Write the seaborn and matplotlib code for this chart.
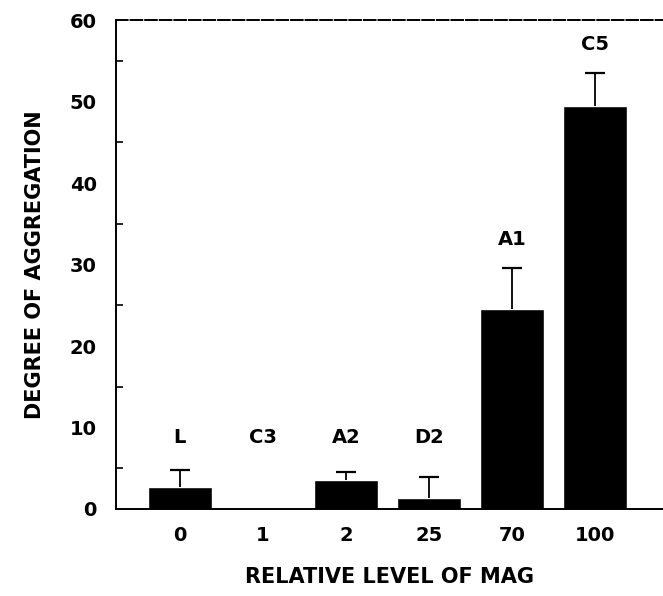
"""Degree of aggregation versus relative level of MAG (bar chart)."""

import numpy as np
import pandas as pd
import seaborn as sns
import matplotlib.pyplot as plt
from matplotlib.ticker import MultipleLocator

# --- Data ----------------------------------------------------------------
mag_levels = ["0", "1", "2", "25", "70", "100"]
clone_names = ["L", "C3", "A2", "D2", "A1", "C5"]
aggregation = [2.7, 0.0, 3.6, 1.4, 24.5, 49.5]
upper_error = [4.8, 0.0, 4.6, 3.9, 29.6, 53.5]


def main() -> None:
    df = pd.DataFrame({"mag": mag_levels, "clone": clone_names,
                       "agg": aggregation, "err": upper_error})

    sns.set_style("white")
    plt.rcParams["font.family"] = ["DejaVu Sans"]
    plt.rcParams["font.weight"] = "bold"
    plt.rcParams["text.color"] = "black"
    plt.rcParams["axes.labelcolor"] = "black"
    plt.rcParams["xtick.color"] = "black"
    plt.rcParams["ytick.color"] = "black"

    fig = plt.figure(figsize=(6.63, 5.96), dpi=100)
    ax = fig.add_axes([0.175, 0.146, 0.825, 0.82])

    sns.barplot(data=df, x="mag", y="agg", color="black", width=0.77,
                saturation=1, errorbar=None, ax=ax)

    # upper error bars only
    x = np.arange(len(df))
    has_err = (df["err"] > df["agg"]).values
    yerr = np.vstack([np.zeros(len(df)), df["err"] - df["agg"]])[:, has_err]
    _, caps, _ = ax.errorbar(x[has_err], df["agg"][has_err], yerr=yerr,
                             fmt="none", ecolor="black", elinewidth=1.3,
                             capsize=7.5, capthick=1.6)
    caps[0].set_visible(False)

    for i, row in df.iterrows():
        y = max(row["err"] + 3.5, 8.8)
        ax.text(i, y, row["clone"], ha="center", va="center",
                fontsize=14, fontweight="bold")

    ax.set_ylim(0, 60)
    ax.set_xlim(-0.77, 5.82)
    ax.yaxis.set_major_locator(MultipleLocator(10))
    ax.yaxis.set_minor_locator(MultipleLocator(5))
    ax.tick_params(axis="y", which="major", direction="in", length=9,
                   width=1.3, labelsize=14, pad=14)
    ax.tick_params(axis="y", which="minor", direction="in", length=5,
                   width=1.2, left=True)
    ax.tick_params(axis="x", length=0, labelsize=14, pad=12)
    for lbl in ax.get_xticklabels() + ax.get_yticklabels():
        lbl.set_fontweight("bold")

    for side in ["left", "bottom", "top"]:
        ax.spines[side].set_linewidth(1.4)
        ax.spines[side].set_color("black")
    ax.spines["top"].set_linestyle((0, (6, 1.5)))
    ax.spines["right"].set_visible(False)

    ax.set_xlabel("RELATIVE LEVEL OF MAG", fontsize=15, fontweight="bold",
                  labelpad=16)
    ax.set_ylabel("DEGREE OF AGGREGATION", fontsize=15, fontweight="bold",
                  labelpad=18)

    fig.savefig("out.png", dpi=100)


if __name__ == "__main__":
    main()
